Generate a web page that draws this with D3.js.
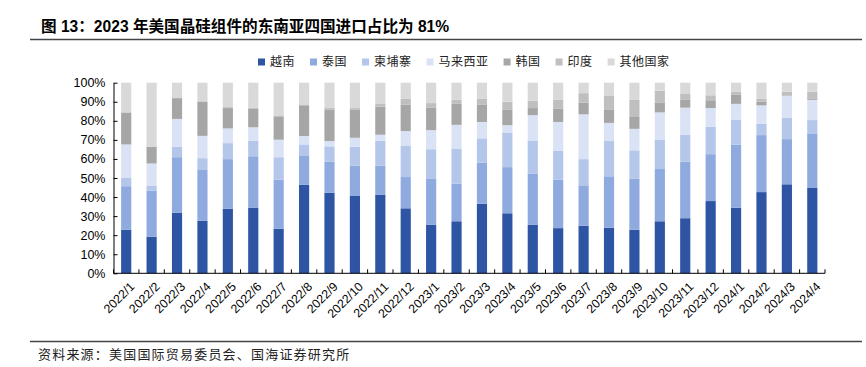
<!DOCTYPE html>
<html><head><meta charset="utf-8">
<script src="https://cdn.jsdelivr.net/npm/d3@7"></script>
<style>
html,body{margin:0;padding:0;background:#fff;}
svg{display:block;}
</style></head>
<body>
<svg id="chart" width="866" height="367"></svg>
<script>
const categories = ["2022/1","2022/2","2022/3","2022/4","2022/5","2022/6","2022/7","2022/8","2022/9","2022/10","2022/11","2022/12","2023/1","2023/2","2023/3","2023/4","2023/5","2023/6","2023/7","2023/8","2023/9","2023/10","2023/11","2023/12","2024/1","2024/2","2024/3","2024/4"];
const seriesNames = ["越南","泰国","柬埔寨","马来西亚","韩国","印度","其他国家"];
const vietnam   = [22.8,19.2,31.7,27.5,33.9,34.3,23.4,46.4,42.2,40.8,41.3,34.1,25.4,27.3,36.5,31.5,25.4,23.7,24.9,23.9,22.8,27.3,28.9,37.9,34.4,42.6,46.7,45.0];
const thailand  = [22.9,24.2,29.2,26.7,26.0,27.1,25.7,15.5,16.3,15.6,15.1,16.4,24.1,19.8,21.5,24.2,27.0,25.4,20.9,27.0,26.9,27.4,29.6,24.6,33.1,29.9,23.7,28.4];
const cambodia  = [4.3,2.4,5.5,6.2,8.4,8.2,11.8,5.7,8.1,10.0,13.2,16.3,15.6,18.1,12.8,18.2,17.3,15.3,14.1,18.5,14.8,15.5,14.3,14.5,13.1,5.9,11.1,7.0];
const malaysia  = [17.6,11.8,14.6,11.7,7.7,7.0,9.2,4.4,2.8,4.7,3.1,7.8,10.0,12.7,8.6,3.8,13.3,15.0,23.5,9.5,11.3,14.2,14.1,9.7,8.3,9.7,11.6,10.6];
const korea     = [16.8,8.8,10.9,17.9,10.7,9.9,12.3,16.2,16.6,14.9,14.8,13.8,11.9,11.0,9.2,8.3,3.7,7.1,6.2,7.1,6.2,5.0,4.1,4.1,4.7,1.9,0.0,0.5];
const india     = [0.0,0.0,0.0,0.3,0.5,0.5,0.0,0.0,1.0,0.7,1.6,3.1,2.3,2.1,3.1,4.0,3.8,4.5,4.9,7.3,9.2,6.4,3.1,2.6,1.6,1.7,2.2,3.7];
const others    = [15.6,33.6,8.1,9.7,12.8,13.0,17.6,11.8,13.0,13.3,10.9,8.5,10.7,9.0,8.3,10.0,9.5,9.0,5.5,6.7,8.8,4.2,5.9,6.6,4.8,8.3,4.7,4.8];
const yTicks = [0,0.1,0.2,0.3,0.4,0.5,0.6,0.7,0.8,0.9,1.0];
const titleText = "图 13：2023 年美国晶硅组件的东南亚四国进口占比为 81%";
const sourceText = "资料来源：美国国际贸易委员会、国海证券研究所";

const colors = ["#2E54A4","#8EAADF","#B4C6EA","#DAE3F5","#A6A6A6","#BFBFBF","#D9D9D9"];
const seriesValues = [vietnam,thailand,cambodia,malaysia,korea,india,others];

const rows = categories.map((c,i)=>{
  const r = {cat:c};
  seriesNames.forEach((s,j)=>r[s]=seriesValues[j][i]);
  return r;
});

const svg = d3.select("#chart");
const latin = "'Liberation Sans', Arial, sans-serif";
const cjk = "'Liberation Sans', 'Noto Sans CJK SC', sans-serif";

// title
svg.append("text").attr("x",41).attr("y",32)
  .attr("font-family",cjk).attr("font-weight","bold").attr("font-size",15.6)
  .attr("fill","#000").text(titleText);
svg.append("line").attr("x1",30).attr("x2",862).attr("y1",39.5).attr("y2",39.5)
  .attr("stroke","#444").attr("stroke-width",1.3);
svg.append("line").attr("x1",30).attr("x2",862).attr("y1",341.5).attr("y2",341.5)
  .attr("stroke","#444").attr("stroke-width",1.3);
svg.append("text").attr("x",38).attr("y",359)
  .attr("font-family","'Noto Sans CJK SC', sans-serif").attr("font-size",13)
  .attr("letter-spacing",1.2).attr("fill","#222").text(sourceText);

const x0 = 113.5, x1 = 825, yTop = 82.7, yBot = 273.3;
const x = d3.scaleBand().domain(categories).range([x0,x1]).paddingInner(0.6).paddingOuter(0.3);
const y = d3.scaleLinear().domain([0,1]).range([yBot,yTop]);

const stack = d3.stack().keys(seriesNames).offset(d3.stackOffsetExpand);
const stacked = stack(rows);

const g = svg.append("g");
g.selectAll("g.s").data(stacked).join("g").attr("class","s")
  .attr("fill",(d,i)=>colors[i])
  .selectAll("rect").data(d=>d).join("rect")
  .attr("x",d=>x(d.data.cat)).attr("width",x.bandwidth())
  .attr("y",d=>y(d[1])).attr("height",d=>Math.max(0,y(d[0])-y(d[1])));

// y axis
const yAxis = d3.axisLeft(y).tickValues(yTicks).tickFormat(d3.format(".0%")).tickSizeInner(-4).tickSizeOuter(0).tickPadding(8);
const ya = svg.append("g").attr("transform",`translate(${x0},0)`).call(yAxis);
ya.select(".domain").attr("stroke","#000");
ya.selectAll(".tick line").attr("stroke","#000");
ya.selectAll("text").attr("font-family",latin).attr("font-size",12.5).attr("fill","#000");

// x axis
const xa = svg.append("g").attr("transform",`translate(0,${yBot})`);
xa.append("line").attr("x1",x0).attr("x2",x1).attr("stroke","#000");
const bounds = categories.map(c=>x(c)-x.step()*x.paddingInner()/2).concat([x1]);
xa.selectAll("line.t").data(bounds).join("line").attr("class","t")
  .attr("x1",d=>d).attr("x2",d=>d).attr("y1",0).attr("y2",-4).attr("stroke","#000");
xa.selectAll("text").data(categories).join("text")
  .attr("transform",d=>`translate(${x(d)+x.bandwidth()/2+6},${11}) rotate(-45)`)
  .attr("text-anchor","end").attr("dy","0.35em")
  .attr("font-family",latin).attr("font-size",12.3).attr("fill","#000").text(d=>d);

// legend
const lg = svg.append("g").attr("transform","translate(258,62)");
let lx = 0;
seriesNames.forEach((s,i)=>{
  const it = lg.append("g").attr("transform",`translate(${lx},0)`);
  it.append("rect").attr("x",0).attr("y",-3.5).attr("width",7).attr("height",7).attr("fill",colors[i]);
  const t = it.append("text").attr("x",12).attr("y",0).attr("dy","0.35em")
    .attr("font-family","'Noto Sans CJK SC', sans-serif").attr("font-size",12)
    .attr("letter-spacing",0.5).attr("fill","#222").text(s);
  lx += 12 + t.node().getComputedTextLength() + 15;
});
</script>
</body></html>
